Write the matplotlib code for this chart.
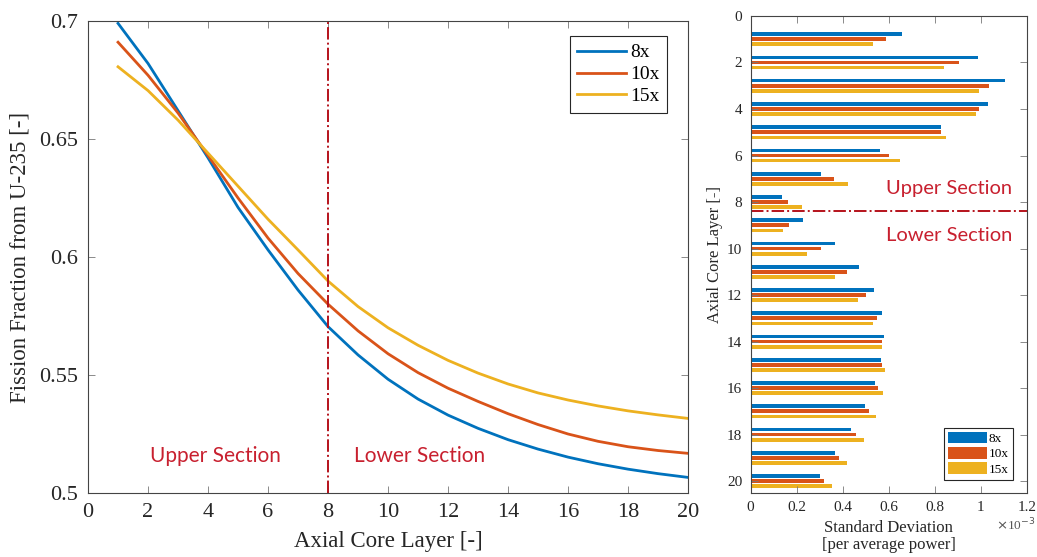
import numpy as np
import matplotlib
matplotlib.use('Agg')
import matplotlib.pyplot as plt

# --- data ---
layers = np.arange(1, 21)
series = ['8x', '10x', '15x']
colors = ['#0072BD', '#D95319', '#EDB120']

frac_8x = [0.699, 0.682, 0.662, 0.642, 0.621, 0.603, 0.586, 0.5705, 0.5585, 0.5482,
           0.5398, 0.5330, 0.5274, 0.5226, 0.5186, 0.5152, 0.5124, 0.5101, 0.5082, 0.5066]
frac_10x = [0.691, 0.677, 0.661, 0.643, 0.625, 0.608, 0.593, 0.580, 0.5687, 0.5590,
            0.5510, 0.5444, 0.5388, 0.5336, 0.5290, 0.5250, 0.5219, 0.5196, 0.5180, 0.5168]
frac_15x = [0.6806, 0.6705, 0.658, 0.644, 0.630, 0.616, 0.603, 0.5898, 0.5790, 0.5700,
            0.5626, 0.5562, 0.5508, 0.5462, 0.5424, 0.5394, 0.5369, 0.5348, 0.5331, 0.5316]

# standard deviation, units of 1e-3
std_8x = [0.659, 0.987, 1.107, 1.032, 0.828, 0.564, 0.304, 0.136, 0.229, 0.368,
          0.472, 0.536, 0.572, 0.580, 0.568, 0.542, 0.497, 0.436, 0.365, 0.300]
std_10x = [0.588, 0.904, 1.035, 0.991, 0.828, 0.600, 0.361, 0.164, 0.168, 0.304,
           0.417, 0.500, 0.548, 0.572, 0.572, 0.552, 0.513, 0.457, 0.384, 0.319]
std_15x = [0.533, 0.839, 0.991, 0.980, 0.848, 0.648, 0.425, 0.225, 0.139, 0.245,
           0.365, 0.465, 0.533, 0.570, 0.584, 0.577, 0.545, 0.493, 0.420, 0.352]

split_left = 8
split_right = 8.4

SERIF = 'Liberation Serif'
SANS = 'Lato'
RED = '#C8202F'
AXC = '#262626'

fig = plt.figure(figsize=(10.37, 5.57), dpi=100)

# ---------------- left panel ----------------
ax1 = fig.add_axes([0.0849, 0.1149, 0.5786, 0.8474])
for vals, name, c in zip([frac_8x, frac_10x, frac_15x], series, colors):
    ax1.plot(layers, vals, color=c, lw=2, label=name)
ax1.axvline(split_left, color='#B5121B', lw=1.4, ls='-.')
ax1.set_xlim(0, 20)
ax1.set_ylim(0.5, 0.7)
ax1.set_xticks(np.arange(0, 21, 2))
ax1.set_yticks([0.5, 0.55, 0.6, 0.65, 0.7])
ax1.set_yticklabels(['0.5', '0.55', '0.6', '0.65', '0.7'])
ax1.set_xlabel('Axial Core Layer [-]', family=SERIF, fontsize=16.5, color=AXC, labelpad=7)
ax1.set_ylabel('Fission Fraction from U-235 [-]', family=SERIF, fontsize=16.5, color=AXC, labelpad=6)
ax1.text(4.25, 0.5157, 'Upper Section', family=SANS, fontsize=15, color=RED, ha='center', va='center')
ax1.text(11.05, 0.5157, 'Lower Section', family=SANS, fontsize=15, color=RED, ha='center', va='center')
leg1 = ax1.legend(loc='upper right', bbox_to_anchor=(0.965, 0.968), borderaxespad=0,
                  prop={'family': SERIF, 'size': 14},
                  handlelength=2.5, handletextpad=0.2, borderpad=0.4, labelspacing=0.22,
                  fancybox=False, edgecolor=AXC, framealpha=1)
leg1.get_frame().set_linewidth(0.8)

# ---------------- right panel ----------------
ax2 = fig.add_axes([0.7239, 0.1154, 0.2662, 0.8559])
h = 0.16
off = 0.22
for k, (vals, name, c) in enumerate(zip([std_8x, std_10x, std_15x], series, colors)):
    ax2.barh(layers + (k - 1) * off, np.array(vals) * 1e-3, height=h, color=c, label=name)
ax2.axhline(split_right, color='#B5121B', lw=1.4, ls='-.')
ax2.set_xlim(0, 1.2e-3)
ax2.set_ylim(20.5, 0)
ax2.set_xticks(np.arange(0, 1.21e-3, 0.2e-3))
ax2.set_xticklabels(['0', '0.2', '0.4', '0.6', '0.8', '1', '1.2'])
ax2.set_yticks(np.arange(0, 21, 2))
ax2.set_xlabel('Standard Deviation\n[per average power]', family=SERIF, fontsize=12,
               color=AXC, labelpad=4, linespacing=1.15)
ax2.set_ylabel('Axial Core Layer [-]', family=SERIF, fontsize=12, color=AXC, labelpad=3)
ax2.text(0.59e-3, 7.4, 'Upper Section', family=SANS, fontsize=14.5, color=RED, ha='left', va='center')
ax2.text(0.59e-3, 9.45, 'Lower Section', family=SANS, fontsize=14.5, color=RED, ha='left', va='center')
ax2.text(1.03, -0.05, r'$\times$10$^{-3}$', transform=ax2.transAxes, family=SERIF, fontsize=9.5,
         color='#555555', ha='right', va='top')
leg2 = ax2.legend(loc='lower right', bbox_to_anchor=(0.949, 0.027), borderaxespad=0,
                  prop={'family': SERIF, 'size': 9.5},
                  handlelength=3.0, handleheight=1.0, handletextpad=0.1, borderpad=0.3,
                  labelspacing=0.15, fancybox=False, edgecolor=AXC, framealpha=1)
leg2.get_frame().set_linewidth(0.8)

for ax, fs, pad in [(ax1, 16, 7), (ax2, 11, 6)]:
    ax.tick_params(direction='in', top=True, right=True, length=5, width=0.6,
                   labelsize=fs, pad=pad)
    for lab in ax.get_xticklabels() + ax.get_yticklabels():
        lab.set_family(SERIF)
    for sp in ax.spines.values():
        sp.set_color('#444444')
        sp.set_linewidth(0.8)
    ax.tick_params(colors='#777777', labelcolor=AXC)

fig.savefig('out.png', dpi=100)
